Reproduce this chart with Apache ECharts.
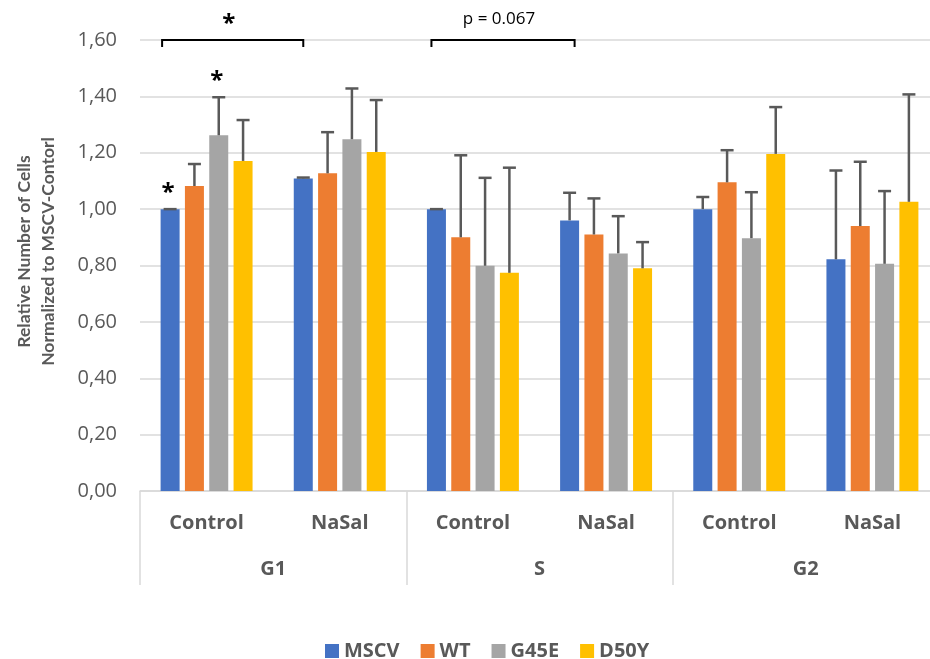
<!DOCTYPE html>
<html>
<head>
<meta charset="utf-8">
<script src="https://cdn.jsdelivr.net/npm/echarts@6/dist/echarts.min.js"></script>
<style>
  html, body { margin: 0; padding: 0; background: #fff; }
  #chart { width: 930px; height: 659px; }
</style>
</head>
<body>
<div id="chart"></div>
<script>
// Cell-cycle phase groups and the treatment within each phase
const phases = ['G1', 'S', 'G2'];
const treatments = ['Control', 'NaSal', 'Control', 'NaSal', 'Control', 'NaSal'];
const seriesNames = ['MSCV', 'WT', 'G45E', 'D50Y'];

// Mean relative cell numbers (normalized to MSCV control)
const mscv = [1.00, 1.109, 1.00, 0.960, 1.00, 0.822];
const wt   = [1.082, 1.127, 0.900, 0.910, 1.095, 0.940];
const g45e = [1.262, 1.248, 0.799, 0.843, 0.897, 0.806];
const d50y = [1.171, 1.203, 0.774, 0.790, 1.196, 1.026];

// Upper error (SD) for each mean
const mscvErr = [0.000, 0.003, 0.000, 0.098, 0.043, 0.315];
const wtErr   = [0.078, 0.146, 0.291, 0.128, 0.114, 0.228];
const g45eErr = [0.135, 0.180, 0.312, 0.132, 0.163, 0.258];
const d50yErr = [0.145, 0.184, 0.373, 0.093, 0.166, 0.381];

const yTickValues = [0, 0.2, 0.4, 0.6, 0.8, 1.0, 1.2, 1.4, 1.6];

const means = [mscv, wt, g45e, d50y];
const errs = [mscvErr, wtErr, g45eErr, d50yErr];
const colors = ['#4472C4', '#ED7D31', '#A5A5A5', '#FFC000'];

const TEXT = '#595959';
const GRID = '#d9d9d9';
const FONT = '"Open Sans", "Noto Sans", sans-serif';
const TITLE_FONT = 'Lato, "Open Sans", sans-serif';
const BAR_W = 19;
const BAR_GAP = 0.28;
const PITCH = BAR_W * (1 + BAR_GAP);

// significance brackets: from/to category, pixel nudges of the ends
const brackets = [
  { from: 0, to: 1, label: '*', dl: -8, dr: 0, isStar: true },
  { from: 2, to: 3, label: 'p = 0.067', dl: -5, dr: 5, isStar: false }
];
// stars placed above individual bars: [category, series]
const barStars = [[0, 0], [0, 2]];

const chart = echarts.init(document.getElementById('chart'));

function barOffset(si) { return (si - (seriesNames.length - 1) / 2) * PITCH; }

const barSeries = seriesNames.map((name, si) => ({
  name: name,
  type: 'bar',
  xAxisIndex: 0,
  yAxisIndex: 0,
  barWidth: BAR_W,
  barGap: (BAR_GAP * 100) + '%',
  itemStyle: { color: colors[si] },
  data: means[si],
  z: 2
}));

const errSeries = seriesNames.map((name, si) => ({
  name: name + ' err',
  type: 'custom',
  xAxisIndex: 0,
  yAxisIndex: 0,
  z: 5,
  silent: true,
  legendHoverLink: false,
  encode: { x: 0, y: 2 },
  data: means[si].map((m, i) => [i, m, m + errs[si][i]]),
  renderItem: function (params, api) {
    const cat = api.value(0);
    const base = api.coord([cat, api.value(1)]);
    const top = api.coord([cat, api.value(2)]);
    const x = base[0] + barOffset(si);
    const st = { stroke: '#595959', lineWidth: 2.5 };
    return {
      type: 'group',
      children: [
        { type: 'line', shape: { x1: x, y1: base[1], x2: x, y2: top[1] }, style: st },
        { type: 'line', shape: { x1: x - 6.5, y1: top[1], x2: x + 6.5, y2: top[1] }, style: st }
      ]
    };
  }
}));

const option = {
  animation: false,
  grid: { left: 140, right: -9, top: 40, bottom: 168, containLabel: false, outerBoundsMode: 'none' },
  legend: {
    data: seriesNames,
    left: 320,
    top: 636,
    icon: 'rect',
    itemWidth: 14,
    itemHeight: 14,
    itemGap: 21,
    textStyle: { color: TEXT, fontSize: 20, fontWeight: 'bold', fontFamily: FONT }
  },
  xAxis: [
    {
      type: 'category',
      data: treatments,
      position: 'bottom',
      axisLine: { lineStyle: { color: GRID, width: 1.5 } },
      axisTick: { show: false },
      axisLabel: { color: TEXT, fontSize: 20, fontWeight: 'bold', fontFamily: FONT, margin: 22 }
    },
    {
      type: 'category',
      data: phases,
      position: 'bottom',
      offset: 0,
      axisLine: { show: false },
      axisTick: { show: true, length: 94, lineStyle: { color: GRID, width: 1.5 } },
      axisLabel: { color: TEXT, fontSize: 20, fontWeight: 'bold', fontFamily: FONT, margin: 68 }
    }
  ],
  yAxis: {
    type: 'value',
    min: yTickValues[0],
    max: yTickValues[yTickValues.length - 1],
    interval: 0.2,
    name: 'Relative Number of Cells\nNormalized to MSCV-Contorl',
    nameLocation: 'middle',
    nameRotate: 90,
    nameGap: 80,
    nameTextStyle: {
      color: TEXT, fontSize: 17.5, fontWeight: 'bold', fontFamily: TITLE_FONT,
      lineHeight: 24, padding: [0, 0, 0, 28]
    },
    axisLine: { show: false },
    axisTick: { show: false },
    axisLabel: {
      color: TEXT, fontSize: 20, fontFamily: FONT, margin: 23,
      formatter: v => v.toFixed(2).replace('.', ',')
    },
    splitLine: { lineStyle: { color: GRID, width: 1.5 } }
  },
  series: barSeries.concat(errSeries)
};

chart.setOption(option);

// Brackets and significance marks, positioned through the axes
function px(cat, val) { return chart.convertToPixel({ xAxisIndex: 0, yAxisIndex: 0 }, [cat, val]); }

const graphics = [];
brackets.forEach(b => {
  const l = px(b.from, 1.6);
  const r = px(b.to, 1.6);
  const x1 = l[0] + barOffset(0) + b.dl;
  const x2 = r[0] + barOffset(0) + b.dr;
  const y = l[1];
  graphics.push({
    type: 'polyline',
    shape: { points: [[x1, y + 7], [x1, y], [x2, y], [x2, y + 7]] },
    style: { stroke: '#000', lineWidth: 2, fill: null },
    z: 10
  });
  graphics.push({
    type: 'text',
    x: (x1 + x2) / 2 - 4,
    y: b.isStar ? y - 16 : y - 21,
    style: {
      text: b.label,
      fill: '#000',
      font: b.isStar ? 'bold 24px ' + FONT : '17px ' + FONT,
      textAlign: 'center',
      textVerticalAlign: 'middle'
    },
    z: 10
  });
});
barStars.forEach(([cat, si]) => {
  const top = px(cat, means[si][cat] + errs[si][cat]);
  graphics.push({
    type: 'text',
    x: top[0] + barOffset(si) - 2,
    y: top[1] - 16,
    style: { text: '*', fill: '#000', font: 'bold 24px ' + FONT, textAlign: 'center', textVerticalAlign: 'middle' },
    z: 10
  });
});
chart.setOption({ graphic: graphics });
</script>
</body>
</html>
